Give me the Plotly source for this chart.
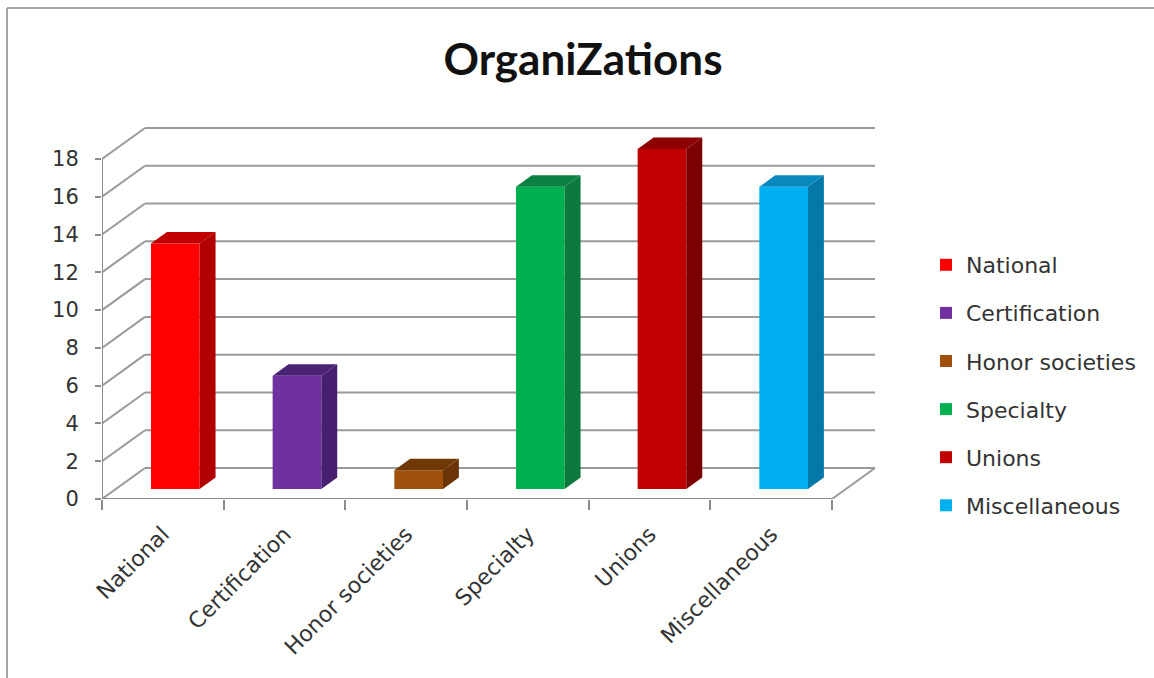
import plotly.graph_objects as go

# ---- data ----
categories = ["National", "Certification", "Honor societies", "Specialty", "Unions", "Miscellaneous"]
values = [13, 6, 1, 16, 18, 16]
y_ticks = [0, 2, 4, 6, 8, 10, 12, 14, 16, 18]
title_text = "OrganiZations"

# ---- styles ----
front_colors = ["#FF0000", "#7030A0", "#A0500C", "#00B050", "#C00000", "#00B0F0"]
side_colors = ["#B00000", "#46206E", "#6A3406", "#0B7A3C", "#7C0000", "#0479A8"]
top_colors = ["#C00000", "#4A2273", "#703707", "#0B8040", "#8E0000", "#0888BC"]
GRID = "#9A9A9A"
AXIS = "#8C8C8C"
TEXT = "#333333"

W, H = 1154, 678
L, R, T, B = 102, 880, 118, 499   # plot rectangle in page pixels
U_PX = 121.67      # pixels per category band
V_PX = 18.89       # pixels per value unit
DX = 43 / U_PX     # full depth of the floor, x-part
DY = 31 / V_PX     # full depth of the floor, y-part
Z0, Z1 = 0.29, 0.66  # bar depth span as a share of the floor depth
BAR_W = 0.40
n = len(categories)

fig = go.Figure()

# bar fronts
for i, (c, v, col) in enumerate(zip(categories, values, front_colors)):
    fig.add_trace(go.Bar(
        x=[i + 0.5 + Z0 * DX], y=[v], base=[0.32 * DY], width=BAR_W, name=c,
        marker=dict(color=col, line_width=0), legendgroup=c, hoverinfo="name+y",
    ))

# bar side and top faces
for i, (v, cs, ct) in enumerate(zip(values, side_colors, top_colors)):
    x0 = i + 0.5 + Z0 * DX - BAR_W / 2
    x1 = x0 + BAR_W
    ddx, ddy = (Z1 - Z0) * DX, (Z1 - Z0) * DY
    y0, y1 = 0.32 * DY, 0.32 * DY + v
    fig.add_trace(go.Scatter(
        x=[x1, x1 + ddx, x1 + ddx, x1, x1], y=[y0, y0 + ddy, y1 + ddy, y1, y0],
        mode="lines", fill="toself", fillcolor=cs, line=dict(width=0, color=cs),
        showlegend=False, hoverinfo="skip"))
    fig.add_trace(go.Scatter(
        x=[x0, x0 + ddx, x1 + ddx, x1, x0], y=[y1, y1 + ddy, y1 + ddy, y1, y1],
        mode="lines", fill="toself", fillcolor=ct, line=dict(width=0, color=ct),
        showlegend=False, hoverinfo="skip"))

# walls, floor and axis lines, under the bars
shapes = []
def seg(x0, y0, x1, y1, color=GRID, width=2):
    shapes.append(dict(type="line", xref="x", yref="y", x0=x0, y0=y0, x1=x1, y1=y1,
                       layer="below", line=dict(color=color, width=width)))
for t in y_ticks:
    seg(0, t, DX, t + DY)
    seg(DX, t + DY, n + DX, t + DY)
seg(n, 0, n + DX, DY)
seg(0, 0, 0, y_ticks[-1], AXIS)
seg(0, 0, n, 0, AXIS)

# picture frame (two visible edges)
px = lambda p: (p - L) / (R - L)
py = lambda p: (B - p) / (B - T)
for a, b, c, d in [(7, 8, 7, 678), (7, 8, 1154, 8)]:
    shapes.append(dict(type="line", xref="paper", yref="paper", x0=px(a), y0=py(b), x1=px(c), y1=py(d),
                       line=dict(color="#8A8A8A", width=1.5)))

fig.update_layout(
    width=W, height=H, autosize=False,
    margin=dict(l=L, r=W - R, t=T, b=H - B, pad=0),
    paper_bgcolor="white", plot_bgcolor="rgba(0,0,0,0)",
    barmode="overlay", shapes=shapes,
    title=dict(text=title_text, x=583 / W, xanchor="center", y=1 - 60 / H, yanchor="middle",
               font=dict(family="Lato", size=44, color="#111111", weight="bold")),
    xaxis=dict(
        range=[0, (R - L) / U_PX], showgrid=False, zeroline=False, showline=False,
        tickmode="array", tickvals=[i + 0.5 for i in range(n)], ticktext=categories,
        tickangle=-45, ticks="", ticklabelstandoff=17,
        tickfont=dict(family="DejaVu Sans", size=22, color=TEXT),
        minor=dict(tickmode="array", tickvals=list(range(n + 1)), ticks="outside", ticklen=10,
                   tickcolor=AXIS, tickwidth=1.5, showgrid=False),
    ),
    yaxis=dict(
        range=[0, (B - T) / V_PX], showgrid=False, zeroline=False, showline=False,
        tickmode="array", tickvals=y_ticks, ticks="outside", ticklen=6,
        tickcolor=AXIS, tickwidth=1.5, ticklabelstandoff=12,
        tickfont=dict(family="DejaVu Sans", size=21, color=TEXT),
    ),
    legend=dict(
        x=(926 - L) / (R - L), xanchor="left", y=py(244), yanchor="top",
        traceorder="grouped", tracegroupgap=16.5, itemwidth=30, itemclick=False, itemdoubleclick=False,
        font=dict(family="DejaVu Sans", size=22, color=TEXT), bgcolor="rgba(0,0,0,0)",
    ),
)

fig.write_html("out.html", config={"displayModeBar": False},
               post_script="document.body.style.margin='0';document.body.style.overflow='hidden';")
